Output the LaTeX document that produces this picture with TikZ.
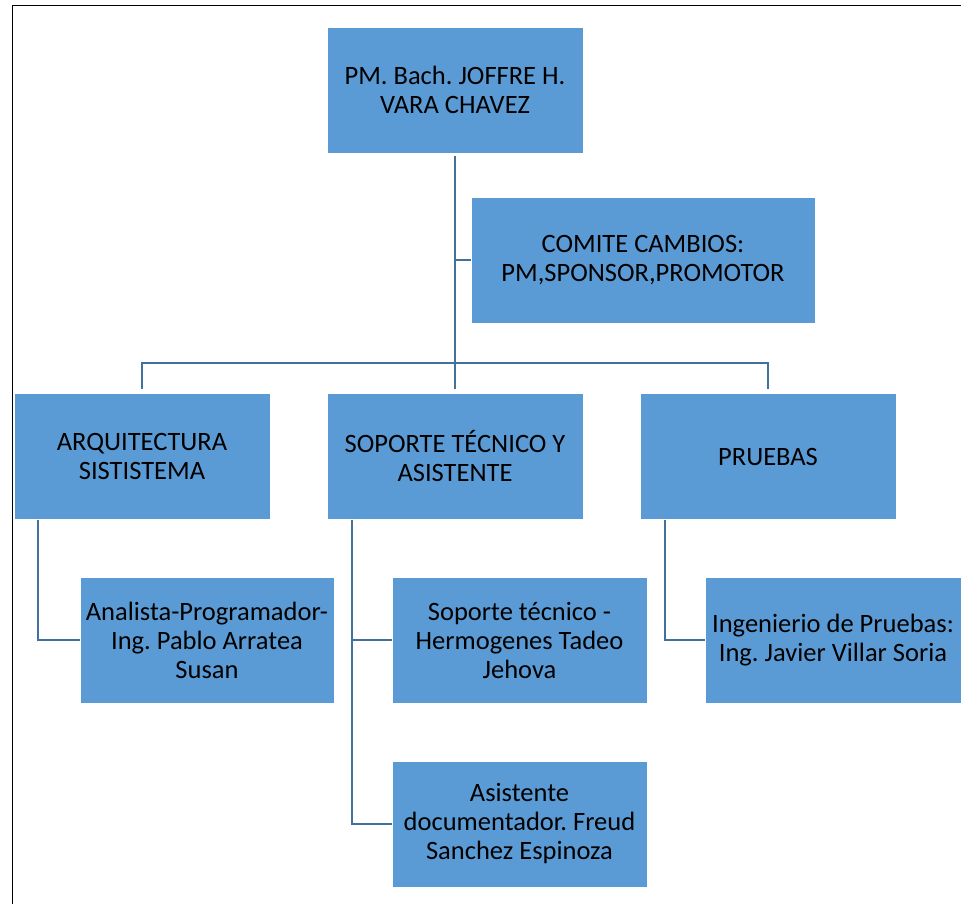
\documentclass[tikz,border=0pt]{standalone}
\usepackage{fontspec}
\setmainfont{Carlito}
\frenchspacing
\definecolor{boxblue}{HTML}{5B9BD5}
\definecolor{linkblue}{HTML}{41719C}
\tikzset{
  orgbox/.style={rectangle, fill=boxblue, draw=white, line width=0.8pt,
    minimum width=#1, minimum height=126pt, inner sep=0pt, align=center,
    font=\fontsize{26.5}{29}\selectfont, text=black},
  orgbox/.default=256pt,
  link/.style={draw=linkblue, line width=2.6pt},
}
\begin{document}
\begin{tikzpicture}[x=1pt, y=-1pt]
  \useasboundingbox (0,0) rectangle (961,903);
  % page frame
  \draw[line width=1.6pt, black] (12.5,904) -- (12.5,5.5) -- (962,5.5);

  % boxes
  \node[orgbox] (top) at (455,90) {PM. Bach. JOFFRE H.\\VARA CHAVEZ};
  \node[orgbox=344pt] (comite) at (643,260) {COMITE CAMBIOS:\\PM,SPONSOR,PROMOTOR};
  \node[orgbox] (arq) at (142,456.5) {ARQUITECTURA\\SISTISTEMA};
  \node[orgbox] (sop) at (455,456.5) {SOPORTE TÉCNICO Y\\ASISTENTE};
  \node[orgbox] (pru) at (768,456.5) {PRUEBAS};
  \node[orgbox=254pt] (ana) at (207,640) {Analista-Programador-\\Ing. Pablo Arratea\\Susan};
  \node[orgbox=255pt] (st) at (519.5,640) {Soporte técnico -\\Hermogenes Tadeo\\Jehova};
  \node[orgbox=255pt] (asis) at (519.5,824) {Asistente\\documentador. Freud\\Sanchez Espinoza};
  \node[orgbox] (ing) at (833,640) {Ingenierio de Pruebas:\\Ing. Javier Villar Soria};

  \coordinate (bus) at (455,363);

  % connectors
  \draw[link, shorten <=3pt, shorten >=4pt] (top.south) -- (sop.north);
  \draw[link] (top.south |- comite.west) -- (comite.west);
  \draw[link, shorten <=4pt, shorten >=4pt] (arq.north) |- (bus) -| (pru.north);

  \draw[link] ([xshift=-104pt]arq.south) |- (ana.west);
  \draw[link] ([xshift=-103pt]sop.south) |- (asis.west);
  \draw[link] ([xshift=-103pt]sop.south |- st.west) -- (st.west);
  \draw[link] ([xshift=-103pt]pru.south) |- (ing.west);
\end{tikzpicture}
\end{document}
